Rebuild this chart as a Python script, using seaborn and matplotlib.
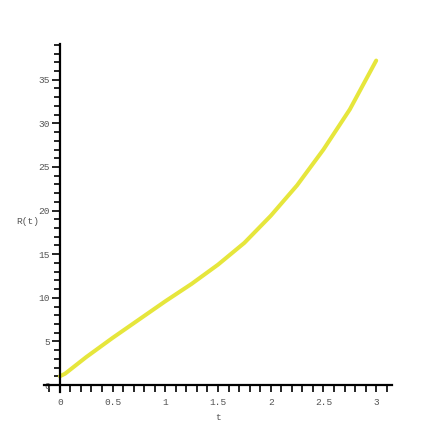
import numpy as np
import pandas as pd
import matplotlib
matplotlib.use("Agg")
import matplotlib.pyplot as plt
import seaborn as sns
from matplotlib.ticker import MultipleLocator, FuncFormatter


# Values
t_values = [0.0, 0.05, 0.25, 0.5, 0.75, 1.0, 1.25, 1.5, 1.75, 2.0, 2.25, 2.5, 2.75, 3.0]
r_values = [1.0, 1.3, 3.2, 5.4, 7.5, 9.6, 11.6, 13.8, 16.3, 19.4, 22.9, 27.0, 31.6, 37.2]

df = pd.DataFrame({"t": t_values, "R": r_values})

sns.set_style("ticks")
plt.rcParams["font.family"] = ["Liberation Mono", "DejaVu Sans Mono"]

fig = plt.figure(figsize=(4.36, 4.36), dpi=100)
ax = fig.add_axes([44 / 436, 44 / 436, 348 / 436, 348 / 436])

sns.lineplot(data=df, x="t", y="R", ax=ax, color="#e6e63c", linewidth=2.9)

ax.set_xlim(-0.15, 3.15)
ax.set_ylim(-0.8, 39.1)

# Axes crossing at the origin
ax.spines["left"].set_position(("data", 0))
ax.spines["bottom"].set_position(("data", 0))
ax.spines["right"].set_visible(False)
ax.spines["top"].set_visible(False)
for side in ["left", "bottom"]:
    ax.spines[side].set_color("black")
    ax.spines[side].set_linewidth(1.6)

ax.xaxis.set_major_locator(MultipleLocator(0.5))
ax.xaxis.set_minor_locator(MultipleLocator(0.1))
ax.yaxis.set_major_locator(MultipleLocator(5))
ax.yaxis.set_minor_locator(MultipleLocator(1))
fmt = FuncFormatter(lambda v, p: f"{v:g}")
ax.xaxis.set_major_formatter(fmt)
ax.yaxis.set_major_formatter(fmt)

ax.tick_params(axis="x", which="both", bottom=True, top=False)
ax.tick_params(axis="y", which="both", left=True, right=False)
ax.tick_params(axis="x", which="major", direction="out", length=5, width=1.2,
               color="black", labelsize=6.8, labelcolor="#555555", pad=4)
ax.tick_params(axis="x", which="minor", direction="out", length=5, width=1.2, color="black")
ax.tick_params(axis="y", which="major", direction="out", length=6, width=1.2,
               color="black", labelsize=6.8, labelcolor="#555555", pad=1)
ax.tick_params(axis="y", which="minor", direction="out", length=4, width=1.2, color="black")

ax.set_xlabel("")
ax.set_ylabel("")
fig.text(218 / 436, 1 - 417 / 436, "t", ha="center", va="center",
         fontsize=6.8, color="#555555")
fig.text(28 / 436, 1 - 221 / 436, "R(t)", ha="center", va="center",
         fontsize=6.8, color="#555555")

fig.savefig("out.png", dpi=100)
